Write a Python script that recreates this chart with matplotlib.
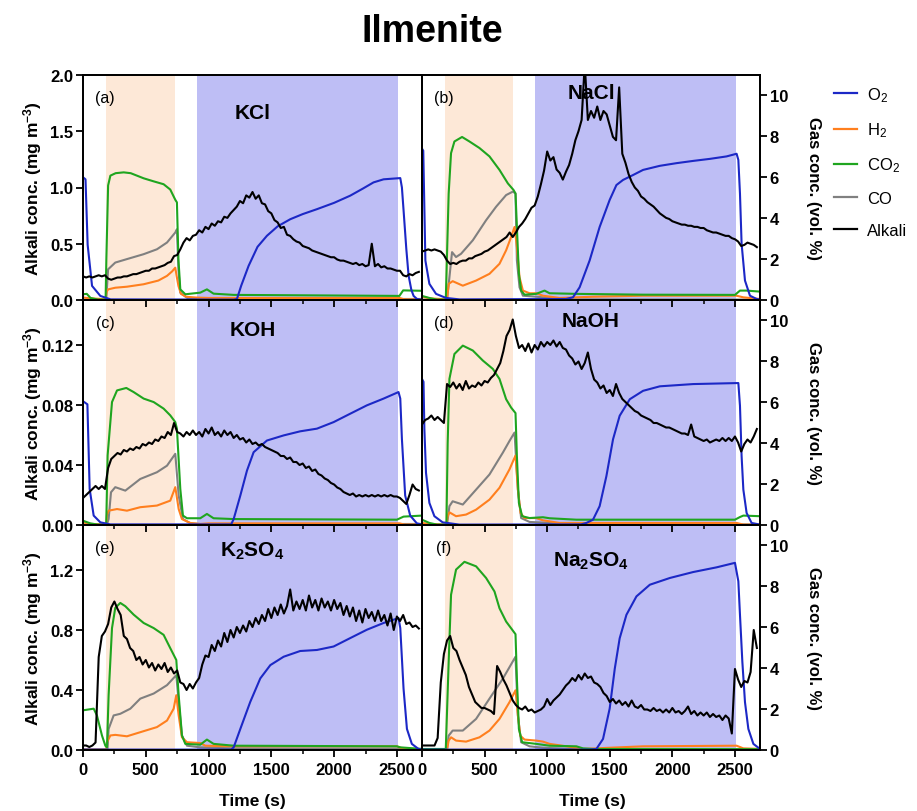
import matplotlib.pyplot as plt
import numpy as np
from matplotlib.lines import Line2D
from matplotlib.ticker import MultipleLocator, FormatStrFormatter

plt.rcParams['font.family'] = ['Liberation Sans', 'DejaVu Sans']
plt.rcParams['font.weight'] = 'bold'
plt.rcParams['mathtext.default'] = 'regular'

# ---- alkali concentration (mg m-3), one reading every 25 s ----
kcl_alk = [0.21, 0.20, 0.21, 0.20, 0.21, 0.22, 0.21, 0.22, 0.19, 0.18,
           0.19, 0.20, 0.20, 0.21, 0.21, 0.22, 0.23, 0.23, 0.24, 0.25,
           0.26, 0.26, 0.28, 0.28, 0.29, 0.30, 0.31, 0.33, 0.34, 0.39,
           0.40, 0.45, 0.51, 0.55, 0.53, 0.57, 0.58, 0.62, 0.60, 0.65,
           0.63, 0.68, 0.66, 0.70, 0.69, 0.74, 0.73, 0.77, 0.80, 0.83,
           0.88, 0.86, 0.93, 0.91, 0.96, 0.90, 0.93, 0.86, 0.85, 0.79,
           0.77, 0.71, 0.69, 0.64, 0.65, 0.58, 0.57, 0.54, 0.52, 0.51,
           0.48, 0.47, 0.46, 0.44, 0.43, 0.42, 0.41, 0.40, 0.39, 0.38,
           0.38, 0.36, 0.35, 0.35, 0.34, 0.33, 0.32, 0.33, 0.31, 0.32,
           0.30, 0.31, 0.50, 0.30, 0.32, 0.29, 0.30, 0.28, 0.28, 0.27,
           0.26, 0.26, 0.22, 0.21, 0.23, 0.22, 0.24, 0.25]
nacl_alk = [0.43, 0.44, 0.45, 0.44, 0.45, 0.44, 0.43, 0.40, 0.35, 0.32,
            0.33, 0.32, 0.34, 0.35, 0.35, 0.37, 0.37, 0.39, 0.40, 0.41,
            0.43, 0.44, 0.46, 0.48, 0.50, 0.52, 0.54, 0.56, 0.60, 0.56,
            0.60, 0.65, 0.68, 0.72, 0.77, 0.82, 0.84, 0.92, 1.03, 1.15,
            1.32, 1.24, 1.27, 1.16, 1.13, 1.07, 1.14, 1.20, 1.30, 1.42,
            1.50, 1.60, 2.10, 1.60, 1.68, 1.62, 1.72, 1.60, 1.68, 1.65,
            1.55, 1.45, 1.42, 1.89, 1.30, 1.22, 1.12, 1.05, 1.00, 0.97,
            0.92, 0.90, 0.87, 0.85, 0.83, 0.80, 0.77, 0.75, 0.73, 0.72,
            0.70, 0.69, 0.68, 0.67, 0.67, 0.66, 0.66, 0.65, 0.65, 0.64,
            0.64, 0.62, 0.61, 0.60, 0.60, 0.59, 0.58, 0.57, 0.57, 0.55,
            0.54, 0.52, 0.48, 0.49, 0.51, 0.50, 0.49, 0.47]
koh_alk = [0.018, 0.020, 0.022, 0.024, 0.026, 0.024, 0.026, 0.024, 0.038, 0.044,
           0.046, 0.048, 0.047, 0.050, 0.049, 0.051, 0.050, 0.052, 0.051, 0.054,
           0.053, 0.055, 0.054, 0.057, 0.056, 0.059, 0.058, 0.062, 0.060, 0.068,
           0.062, 0.061, 0.059, 0.062, 0.060, 0.063, 0.060, 0.062, 0.059, 0.064,
           0.061, 0.065, 0.060, 0.062, 0.059, 0.063, 0.060, 0.062, 0.058, 0.060,
           0.057, 0.058, 0.055, 0.057, 0.054, 0.055, 0.053, 0.054, 0.052, 0.051,
           0.050, 0.049, 0.048, 0.046, 0.046, 0.044, 0.045, 0.042, 0.042, 0.040,
           0.041, 0.038, 0.039, 0.036, 0.037, 0.034, 0.033, 0.031, 0.030, 0.028,
           0.027, 0.025, 0.024, 0.022, 0.021, 0.020, 0.021, 0.019, 0.020, 0.019,
           0.020, 0.019, 0.020, 0.019, 0.020, 0.019, 0.020, 0.019, 0.020, 0.019,
           0.019, 0.018, 0.016, 0.014, 0.020, 0.027, 0.024, 0.023]
naoh_alk = [0.067, 0.070, 0.071, 0.073, 0.070, 0.072, 0.070, 0.068, 0.094, 0.092,
            0.095, 0.091, 0.094, 0.090, 0.096, 0.091, 0.093, 0.092, 0.095, 0.093,
            0.096, 0.095, 0.098, 0.100, 0.104, 0.108, 0.116, 0.126, 0.130, 0.137,
            0.126, 0.118, 0.120, 0.116, 0.121, 0.115, 0.120, 0.117, 0.122, 0.119,
            0.122, 0.120, 0.123, 0.119, 0.122, 0.118, 0.117, 0.113, 0.111, 0.107,
            0.109, 0.104, 0.108, 0.115, 0.104, 0.097, 0.095, 0.091, 0.093, 0.088,
            0.090, 0.086, 0.094, 0.088, 0.084, 0.082, 0.080, 0.078, 0.076, 0.075,
            0.073, 0.072, 0.071, 0.070, 0.068, 0.068, 0.067, 0.066, 0.065, 0.065,
            0.064, 0.063, 0.062, 0.061, 0.061, 0.060, 0.067, 0.059, 0.058, 0.057,
            0.056, 0.057, 0.055, 0.056, 0.057, 0.056, 0.058, 0.056, 0.058, 0.056,
            0.059, 0.055, 0.049, 0.054, 0.057, 0.055, 0.059, 0.064]
k2so4_alk = [0.03, 0.03, 0.02, 0.03, 0.05, 0.62, 0.76, 0.79, 0.84, 0.95,
             0.99, 0.94, 0.90, 0.76, 0.74, 0.68, 0.66, 0.60, 0.62, 0.57,
             0.60, 0.55, 0.58, 0.53, 0.57, 0.54, 0.58, 0.52, 0.55, 0.51,
             0.53, 0.45, 0.44, 0.40, 0.44, 0.41, 0.45, 0.48, 0.57, 0.63,
             0.62, 0.70, 0.66, 0.73, 0.69, 0.78, 0.72, 0.80, 0.75, 0.82,
             0.78, 0.83, 0.79, 0.86, 0.82, 0.88, 0.84, 0.90, 0.86, 0.94,
             0.88, 0.95, 0.90, 0.97, 0.91, 0.96, 1.07, 0.93, 0.99, 0.94,
             1.00, 0.93, 1.03, 0.95, 1.00, 0.93, 1.01, 0.95, 0.99, 0.93,
             1.00, 0.94, 0.98, 0.90, 0.96, 0.89, 0.95, 0.86, 0.93, 0.85,
             0.94, 0.88, 0.92, 0.86, 0.93, 0.86, 0.90, 0.83, 0.91, 0.80,
             0.89, 0.86, 0.90, 0.84, 0.85, 0.82, 0.83, 0.81]
na2so4_alk = [0.03, 0.03, 0.03, 0.03, 0.03, 0.08, 0.45, 0.64, 0.73, 0.76,
              0.68, 0.66, 0.60, 0.55, 0.50, 0.42, 0.37, 0.32, 0.30, 0.28,
              0.28, 0.27, 0.26, 0.24, 0.56, 0.52, 0.47, 0.43, 0.38, 0.33,
              0.30, 0.28, 0.27, 0.29, 0.26, 0.27, 0.25, 0.26, 0.27, 0.29,
              0.34, 0.30, 0.33, 0.35, 0.37, 0.40, 0.43, 0.45, 0.48, 0.46,
              0.50, 0.47, 0.51, 0.48, 0.49, 0.45, 0.44, 0.42, 0.38, 0.36,
              0.32, 0.34, 0.31, 0.33, 0.30, 0.32, 0.29, 0.33, 0.29, 0.28,
              0.30, 0.27, 0.27, 0.26, 0.28, 0.26, 0.27, 0.25, 0.27, 0.25,
              0.28, 0.25, 0.26, 0.24, 0.26, 0.29, 0.24, 0.26, 0.23, 0.25,
              0.23, 0.25, 0.22, 0.24, 0.22, 0.23, 0.20, 0.23, 0.21, 0.11,
              0.54, 0.47, 0.42, 0.46, 0.45, 0.52, 0.80, 0.68]
alk_step = 25

# ---- gas concentrations (time s, vol. %) ----
kcl_o2 = [(0, 6.0), (20, 5.9), (37, 2.7), (72, 0.69), (138, 0.2), (220, 0.03), (1200, 0.02),
          (1226, 0.05), (1260, 0.7), (1319, 1.67), (1390, 2.6), (1465, 3.14), (1550, 3.6),
          (1651, 3.95), (1750, 4.2), (1863, 4.44), (2000, 4.75), (2128, 5.1), (2230, 5.45),
          (2314, 5.75), (2394, 5.9), (2527, 5.96), (2540, 5.5), (2553, 4.4), (2575, 2.5),
          (2593, 1.2), (2615, 0.5), (2633, 0.2), (2660, 0.05), (2700, 0.02)]
kcl_h2 = [(0, 0.12), (60, 0.08), (150, 0.05), (180, 0.05), (188, 0.4), (200, 0.52), (257, 0.6),
          (350, 0.65), (483, 0.77), (600, 0.95), (669, 1.18), (710, 1.4), (735, 1.58), (745, 1.2),
          (760, 0.69), (780, 0.3), (820, 0.16), (900, 0.12), (1000, 0.1), (2520, 0.1),
          (2560, 0.03), (2700, 0.02)]
kcl_co2 = [(0, 0.28), (30, 0.3), (60, 0.1), (120, 0.02), (180, 0.02), (186, 2.0), (200, 5.6),
           (218, 6.08), (260, 6.2), (324, 6.24), (380, 6.2), (483, 5.95), (563, 5.8), (642, 5.66),
           (695, 5.4), (735, 4.9), (748, 4.77), (760, 2.0), (775, 0.52), (815, 0.28), (934, 0.36),
           (987, 0.52), (1040, 0.31), (1200, 0.25), (2520, 0.2), (2550, 0.47), (2700, 0.45)]
kcl_co = [(0, 0.02), (185, 0.05), (200, 1.5), (257, 1.83), (350, 2.0), (483, 2.24), (589, 2.48),
          (669, 2.81), (735, 3.3), (748, 3.46), (760, 1.5), (775, 0.36), (830, 0.1), (900, 0.05),
          (2700, 0.05)]

nacl_o2 = [(0, 7.4), (10, 7.3), (27, 1.93), (59, 0.79), (112, 0.3), (192, 0.1), (300, 0.03),
           (1150, 0.05), (1206, 0.13), (1259, 0.62), (1339, 1.93), (1419, 3.57), (1499, 4.89),
           (1553, 5.62), (1606, 5.87), (1686, 6.11), (1766, 6.36), (1900, 6.56), (2033, 6.69),
           (2166, 6.8), (2300, 6.9), (2433, 7.02), (2513, 7.15), (2527, 6.85), (2540, 5.2),
           (2553, 2.75), (2580, 0.95), (2620, 0.21), (2673, 0.05), (2700, 0.03)]
nacl_h2 = [(0, 0.16), (60, 0.08), (150, 0.05), (200, 0.05), (213, 0.79), (245, 0.92), (326, 0.7),
           (432, 0.95), (539, 1.28), (619, 1.77), (672, 2.43), (712, 3.08), (739, 3.57),
           (758, 2.59), (779, 1.11), (806, 0.46), (859, 0.33), (912, 0.33), (966, 0.21),
           (1099, 0.1), (1366, 0.16), (1766, 0.21), (2513, 0.21), (2567, 0.13), (2700, 0.05)]
nacl_co2 = [(0, 0.2), (59, 0.1), (120, 0.02), (190, 0.02), (213, 5.2), (232, 7.18), (259, 7.75),
            (320, 7.97), (379, 7.75), (459, 7.43), (539, 7.02), (619, 6.36), (686, 5.7),
            (731, 5.38), (747, 5.21), (758, 3.57), (774, 1.28), (792, 0.46), (819, 0.26),
            (912, 0.3), (979, 0.46), (1019, 0.33), (1233, 0.3), (1766, 0.26), (2500, 0.25),
            (2540, 0.46), (2593, 0.46), (2700, 0.41)]
nacl_co = [(0, 0.02), (200, 0.02), (219, 1.11), (240, 2.34), (272, 2.1), (312, 2.26), (406, 2.92),
           (512, 3.9), (592, 4.56), (672, 5.13), (726, 5.3), (747, 5.2), (758, 1.93), (779, 0.62),
           (806, 0.21), (912, 0.16), (1019, 0.1), (1233, 0.03), (2700, 0.02)]

koh_o2 = [(0, 6.05), (35, 5.9), (53, 1.76), (85, 0.46), (138, 0.13), (218, 0.03), (1180, 0.03),
          (1200, 0.29), (1253, 1.44), (1306, 2.66), (1359, 3.56), (1465, 4.13), (1598, 4.38),
          (1730, 4.58), (1863, 4.71), (1996, 5.03), (2128, 5.44), (2261, 5.85), (2394, 6.18),
          (2513, 6.5), (2527, 6.18), (2540, 4.2), (2566, 1.44), (2606, 0.46), (2659, 0.08),
          (2700, 0.03)]
koh_h2 = [(0, 0.13), (60, 0.05), (185, 0.03), (191, 0.5), (204, 0.7), (271, 0.78), (350, 0.7),
          (456, 0.87), (589, 0.95), (695, 1.19), (735, 1.85), (762, 0.78), (788, 0.29),
          (855, 0.1), (934, 0.05), (1000, 0.08), (2520, 0.08), (2560, 0.02), (2700, 0.02)]
koh_co2 = [(0, 0.21), (58, 0.08), (120, 0.02), (185, 0.02), (196, 3.4), (231, 6.01), (271, 6.58),
           (345, 6.7), (403, 6.5), (483, 6.18), (563, 6.01), (642, 5.69), (695, 5.36),
           (735, 5.03), (748, 4.71), (775, 1.76), (796, 0.46), (828, 0.33), (934, 0.33),
           (987, 0.54), (1040, 0.33), (1200, 0.29), (2500, 0.26), (2553, 0.41), (2700, 0.46)]
koh_co = [(0, 0.02), (190, 0.02), (204, 0.29), (223, 1.6), (257, 1.85), (337, 1.68), (456, 2.25),
          (589, 2.58), (669, 2.9), (735, 3.48), (762, 1.44), (796, 0.29), (855, 0.08),
          (934, 0.05), (2700, 0.05)]

naoh_o2 = [(0, 7.14), (12, 7.0), (19, 4.68), (32, 2.55), (59, 1.08), (99, 0.43), (165, 0.13),
           (299, 0.02), (1270, 0.03), (1313, 0.1), (1366, 0.26), (1419, 0.92), (1473, 2.39),
           (1526, 4.19), (1579, 5.34), (1660, 6.15), (1766, 6.56), (1900, 6.78), (2166, 6.89),
           (2527, 6.94), (2540, 5.83), (2553, 3.37), (2567, 1.73), (2593, 0.59), (2633, 0.1),
           (2700, 0.02)]
naoh_h2 = [(0, 0.1), (60, 0.05), (195, 0.02), (205, 0.43), (219, 0.62), (272, 0.43), (352, 0.51),
           (432, 0.75), (539, 1.24), (619, 1.82), (699, 2.72), (747, 3.4), (766, 1.73),
           (787, 0.59), (819, 0.34), (912, 0.34), (966, 0.23), (1099, 0.1), (2513, 0.1),
           (2567, 0.02), (2700, 0.02)]
naoh_co2 = [(0, 0.26), (59, 0.1), (120, 0.02), (195, 0.02), (205, 4.0), (219, 7.14), (259, 8.36),
            (326, 8.77), (406, 8.53), (486, 8.04), (566, 7.63), (619, 7.14), (672, 6.15),
            (712, 5.74), (747, 5.47), (758, 3.37), (774, 1.08), (800, 0.43), (859, 0.34),
            (966, 0.38), (1019, 0.33), (1233, 0.26), (2500, 0.26), (2540, 0.39), (2567, 0.46),
            (2700, 0.43)]
naoh_co = [(0, 0.02), (200, 0.02), (219, 0.92), (245, 1.16), (326, 1.0), (432, 1.73), (539, 2.47),
           (646, 3.54), (699, 4.11), (739, 4.52), (766, 1.73), (792, 0.34), (859, 0.15),
           (1019, 0.1), (1200, 0.03), (2700, 0.03)]

k2so4_o2 = [(0, 0.02), (1180, 0.02), (1200, 0.13), (1253, 1.03), (1332, 2.35), (1412, 3.5),
            (1492, 4.15), (1598, 4.56), (1730, 4.84), (1863, 4.89), (1996, 5.06), (2128, 5.47),
            (2261, 5.88), (2394, 6.21), (2513, 6.45), (2527, 5.96), (2553, 3.0), (2580, 1.03),
            (2619, 0.3), (2672, 0.05), (2700, 0.03)]
k2so4_h2 = [(0, 0.02), (185, 0.02), (191, 0.38), (218, 0.71), (257, 0.74), (350, 0.67),
            (456, 0.87), (589, 1.12), (669, 1.44), (722, 2.02), (743, 2.68), (762, 1.69),
            (788, 0.62), (828, 0.38), (934, 0.34), (974, 0.21), (1200, 0.18), (2500, 0.18),
            (2553, 0.05), (2700, 0.02)]
k2so4_co2 = [(0, 1.94), (85, 2.02), (111, 1.69), (151, 0.71), (178, 0.21), (191, 0.13), (204, 2.68),
             (231, 5.96), (257, 6.95), (297, 7.19), (337, 7.03), (403, 6.62), (483, 6.21),
             (563, 5.96), (642, 5.63), (695, 4.98), (743, 4.4), (762, 2.68), (788, 0.71),
             (815, 0.3), (934, 0.26), (987, 0.51), (1040, 0.3), (1200, 0.21), (2500, 0.18),
             (2527, 0.13), (2700, 0.05)]
k2so4_co = [(0, 0.02), (195, 0.02), (204, 1.03), (244, 1.69), (297, 1.77), (377, 2.02), (456, 2.51),
            (563, 2.76), (669, 3.17), (743, 3.66), (762, 2.35), (788, 0.71), (828, 0.21),
            (934, 0.13), (1200, 0.08), (2700, 0.05)]

na2so4_o2 = [(0, 0.02), (1340, 0.02), (1393, 0.05), (1446, 0.54), (1499, 2.02), (1540, 3.98),
             (1579, 5.46), (1633, 6.61), (1713, 7.51), (1820, 8.08), (1980, 8.41), (2166, 8.7),
             (2353, 8.93), (2500, 9.15), (2527, 8.25), (2540, 6.61), (2559, 4.31), (2580, 2.34),
             (2607, 1.03), (2647, 0.3), (2700, 0.05)]
na2so4_h2 = [(0, 0.03), (200, 0.03), (213, 0.46), (232, 0.62), (272, 0.46), (352, 0.41),
             (459, 0.62), (539, 0.95), (619, 1.52), (699, 2.34), (747, 2.92), (766, 1.69),
             (785, 0.7), (819, 0.51), (912, 0.46), (966, 0.41), (1019, 0.3), (1153, 0.18),
             (1286, 0.05), (1499, 0.11), (1766, 0.18), (2513, 0.21), (2567, 0.08), (2700, 0.05)]
na2so4_co2 = [(0, 0.05), (190, 0.05), (213, 4.31), (232, 7.59), (272, 8.82), (339, 9.2),
              (432, 8.98), (512, 8.41), (579, 7.75), (619, 6.93), (672, 6.28), (712, 5.95),
              (747, 5.66), (758, 3.49), (774, 1.03), (800, 0.38), (912, 0.3), (1019, 0.21),
              (1233, 0.18), (1286, 0.08), (1366, 0.05), (2700, 0.04)]
na2so4_co = [(0, 0.02), (200, 0.02), (213, 0.7), (245, 0.95), (326, 0.95), (432, 1.52),
             (539, 2.51), (646, 3.49), (747, 4.56), (766, 1.69), (792, 0.38), (859, 0.18),
             (966, 0.11), (1200, 0.05), (2700, 0.05)]

# reduction / oxidation periods (s)
red_period = (180, 730)
ox_period = (905, 2505)

letters = ['(a)', '(b)', '(c)', '(d)', '(e)', '(f)']
names = ['KCl', 'NaCl', 'KOH', 'NaOH', 'K$_2$SO$_4$', 'Na$_2$SO$_4$']
alkali = [kcl_alk, nacl_alk, koh_alk, naoh_alk, k2so4_alk, na2so4_alk]
o2 = [kcl_o2, nacl_o2, koh_o2, naoh_o2, k2so4_o2, na2so4_o2]
h2 = [kcl_h2, nacl_h2, koh_h2, naoh_h2, k2so4_h2, na2so4_h2]
co2 = [kcl_co2, nacl_co2, koh_co2, naoh_co2, k2so4_co2, na2so4_co2]
co = [kcl_co, nacl_co, koh_co, naoh_co, k2so4_co, na2so4_co]

alk_max = [2.0, 0.15, 1.5]
alk_ticks = [[0, 0.5, 1.0, 1.5, 2.0], [0, 0.04, 0.08, 0.12], [0, 0.4, 0.8, 1.2]]
alk_fmt = ['%.1f', '%.2f', '%.1f']
gas_ticks = [0, 2, 4, 6, 8, 10]
name_y = [0.835, 0.924, 0.871, 0.907, 0.889, 0.844]

c_o2 = '#1c28c6'
c_h2 = '#ff7f1e'
c_co2 = '#1fa51f'
c_co = '#808080'
c_red = '#fde8d7'
c_ox = '#bebef5'

W, H = 917, 812
fig = plt.figure(figsize=(W / 100, H / 100), dpi=100)

col_x = [83, 422]
col_w = [339, 338]
row_top = [76, 301, 526]
row_h = 225

for i in range(6):
    row, col = i // 2, i % 2
    ax = fig.add_axes([col_x[col] / W, 1 - (row_top[row] + row_h) / H,
                       col_w[col] / W, row_h / H])
    gax = ax.twinx()
    ax.set_zorder(gax.get_zorder() + 1)
    ax.patch.set_visible(False)

    gax.axvspan(*red_period, color=c_red, lw=0, zorder=0)
    gax.axvspan(*ox_period, color=c_ox, lw=0, zorder=0)

    for series, c in [(co[i], c_co), (h2[i], c_h2), (co2[i], c_co2), (o2[i], c_o2)]:
        t, v = zip(*series)
        gax.plot(t, v, color=c, lw=1.5)

    t_alk = np.arange(len(alkali[i])) * alk_step
    ax.plot(t_alk, alkali[i], color='black', lw=1.5)

    ax.set_xlim(0, 2700)
    ax.set_ylim(0, alk_max[row])
    gax.set_ylim(0, 11)
    ax.xaxis.set_major_locator(MultipleLocator(500))
    ax.xaxis.set_minor_locator(MultipleLocator(250))
    ax.set_yticks(alk_ticks[row])
    ax.yaxis.set_major_formatter(FormatStrFormatter(alk_fmt[row]))
    gax.set_yticks(gas_ticks)

    ax.tick_params(axis='x', which='major', direction='out', length=5, width=1.3,
                   labelsize=12, labelbottom=(row == 2), pad=4)
    ax.tick_params(axis='x', which='minor', direction='out', length=3, width=1.1)
    ax.tick_params(axis='y', direction='out', length=5, width=1.3, labelsize=12, pad=2)
    gax.tick_params(axis='y', direction='out', length=5, width=1.3, labelsize=12, pad=2)

    if col == 0:
        gax.tick_params(axis='y', right=False, labelright=False)
        ax.set_ylabel('Alkali conc. (mg m$^{-3}$)', fontsize=12.5, fontweight='bold', va='center')
        ax.yaxis.set_label_coords(-0.150, 0.5)
    else:
        ax.tick_params(axis='y', left=False, labelleft=False)
        gax.set_ylabel('Gas conc. (vol. %)', fontsize=12, fontweight='bold',
                       rotation=270, va='center')
        gax.yaxis.set_label_coords(1.157, 0.5)

    for a in (ax, gax):
        for s in a.spines.values():
            s.set_linewidth(1.3)

    ax.text(0.065, 0.90, letters[i], transform=ax.transAxes, fontsize=11.5,
            fontweight='normal', ha='center', va='center')
    ax.text(0.5, name_y[i], names[i], transform=ax.transAxes, fontsize=15,
            fontweight='bold', ha='center', va='center')

fig.text(252 / W, 1 - 802 / H, 'Time (s)', fontsize=12.5, fontweight='bold', ha='center', va='center')
fig.text(592 / W, 1 - 802 / H, 'Time (s)', fontsize=12.5, fontweight='bold', ha='center', va='center')
fig.text(432 / W, 1 - 32 / H, 'Ilmenite', fontsize=27, fontweight='bold', ha='center', va='center')

handles = [Line2D([], [], color=c_o2, lw=1.6), Line2D([], [], color=c_h2, lw=1.6),
           Line2D([], [], color=c_co2, lw=1.6), Line2D([], [], color=c_co, lw=1.6),
           Line2D([], [], color='black', lw=1.6)]
labels = ['O$_2$', 'H$_2$', 'CO$_2$', 'CO', 'Alkali']
fig.legend(handles, labels, loc='upper left', bbox_to_anchor=(834 / W, 1 - 86 / H),
           frameon=False, prop={'size': 12, 'weight': 'normal'}, handlelength=1.4,
           handletextpad=0.6, labelspacing=1.0, borderpad=0, borderaxespad=0)

fig.savefig('out.png', dpi=100)
